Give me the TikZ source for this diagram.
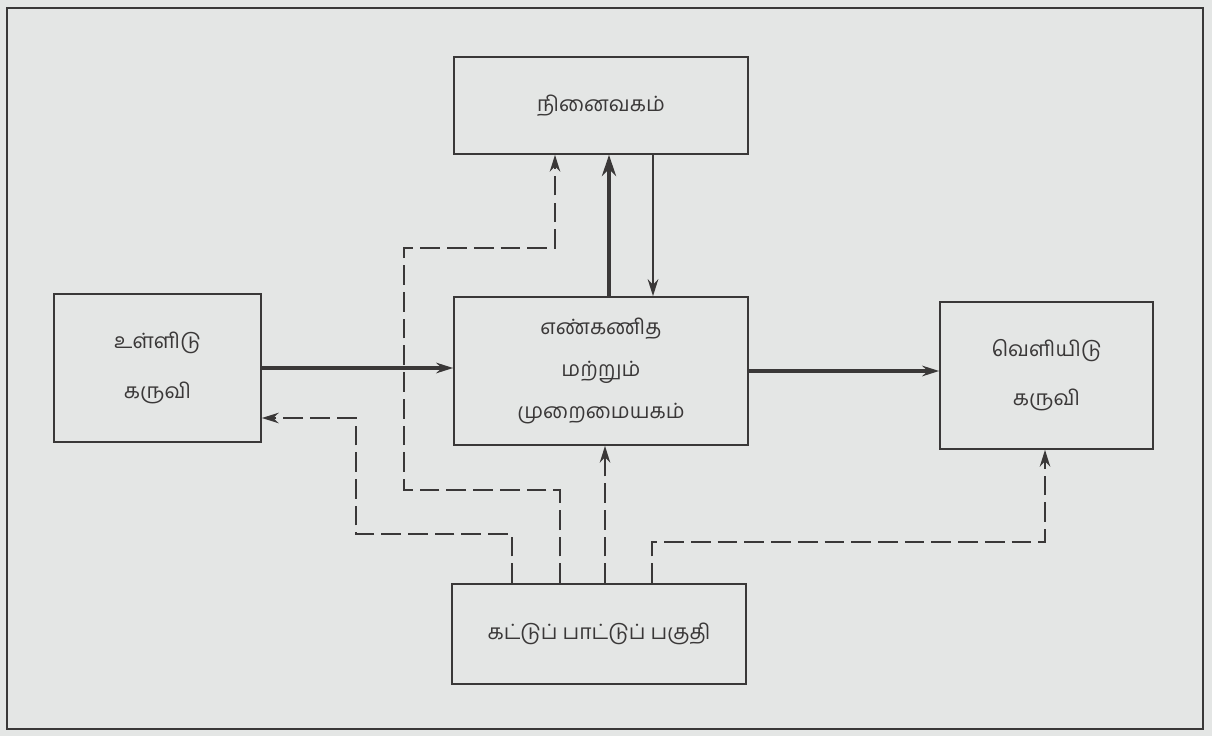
\documentclass[tikz,border=0pt]{standalone}
\usepackage{fontspec}
\newfontfamily\tamil[Script=Tamil]{Hind Madurai}
\usepackage{xcolor}
\usetikzlibrary{arrows.meta,positioning}
\definecolor{paper}{RGB}{228,230,229}
\definecolor{ink}{RGB}{58,56,56}

\begin{document}
\begin{tikzpicture}[x=0.025cm, y=-0.025cm,
    box/.style={rectangle, draw=ink, line width=1.2pt, inner sep=0pt, align=center, text=ink, font=\tamil\fontsize{15}{30}\selectfont},
    arrow/.style={-{Stealth[length=12pt,width=7.5pt]}, draw=ink},
    ctl/.style={arrow, line width=1.3pt, dash pattern=on 14pt off 5pt},
]

% Paper and frame
\fill[paper] (0,0) rectangle (1212,736);
\draw[ink, line width=1pt] (7,8) rectangle (1203,729);

% Units
\node[box, minimum width=7.35cm, minimum height=2.425cm] (mem) at (601,105.5) {நினைவகம்};
\node[box, minimum width=5.175cm, minimum height=3.7cm] (in) at (157.5,368) {உள்ளிடு\\[5pt]கருவி};
\node[box, minimum width=7.35cm, minimum height=3.7cm] (alu) at (601,371) {எண்கணித\\மற்றும்\\முறைமையகம்};
\node[box, minimum width=5.325cm, minimum height=3.675cm] (out) at (1046.5,375.5) {வெளியிடு\\[5pt]கருவி};
\node[box, minimum width=7.35cm, minimum height=2.5cm] (ctrl) at (599,634) {கட்டுப் பாட்டுப் பகுதி};

% Bends of the lines
\coordinate (u) at (609,200);
\coordinate (d) at (653,200);
\coordinate (k1) at (512,534);
\coordinate (j1) at (356,418);
\coordinate (k2) at (560,490);
\coordinate (j2) at (404,248);
\coordinate (m2) at (555,248);
\coordinate (k3) at (605,500);
\coordinate (k4) at (652,542);
\coordinate (j4) at (1045,542);

% Data flow
\draw[arrow, line width=2.4pt] (in.east) -- (in.east -| alu.west);
\draw[arrow, line width=2.4pt] (alu.east) -- (alu.east -| out.west);
\draw[arrow, line width=3.2pt, -{Stealth[length=15pt,width=10pt]}] (alu.north -| u) -- (u |- mem.south);
\draw[arrow, line width=1.8pt] (mem.south -| d) -- (d |- alu.north);

% Control lines
\draw[ctl] (ctrl.north -| k1) -- (k1) -| (j1) -- (j1 -| in.east);
\draw[ctl] (ctrl.north -| k2) -- (k2) -| (j2) -- (m2) -- (m2 |- mem.south);
\draw[ctl] (ctrl.north -| k3) -- (k3 |- alu.south);
\draw[ctl] (ctrl.north -| k4) -- (k4) -- (j4) -- (j4 |- out.south);

\end{tikzpicture}
\end{document}
